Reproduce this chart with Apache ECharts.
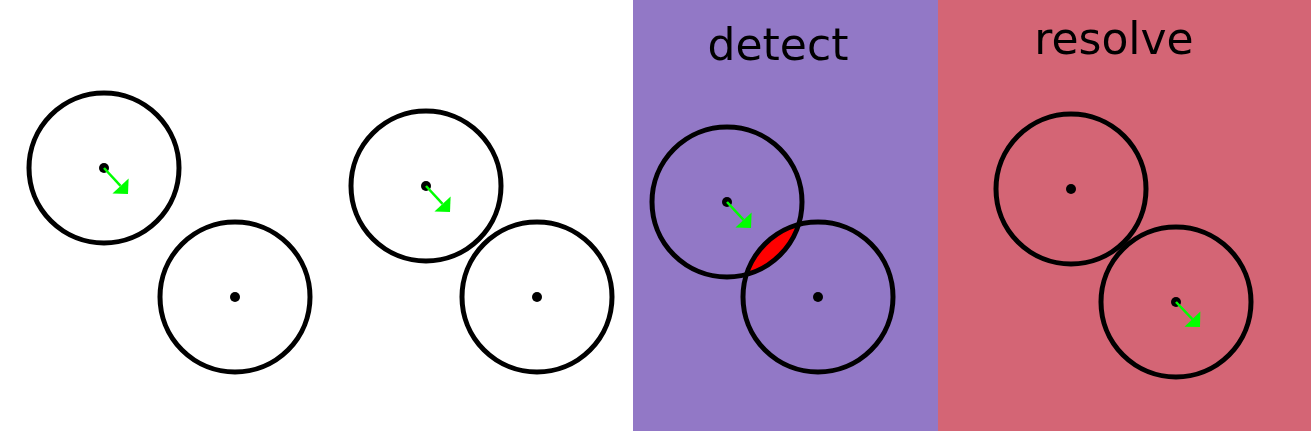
<!DOCTYPE html>
<html>
<head>
<meta charset="utf-8">
<script src="https://cdn.jsdelivr.net/npm/echarts@6/dist/echarts.min.js"></script>
<style>
  html, body { margin: 0; padding: 0; background: #fff; }
  #chart { width: 1311px; height: 431px; }
</style>
</head>
<body>
<div id="chart"></div>
<script type="text/javascript">
// panel edges along x (white area left of the first edge)
var panelEdges = [633, 938, 1311];
var panelTitles = ['detect', 'resolve'];
var titleX = [778, 1114];
var titleY = [49, 43];

// circle centres and radius (in px of the picture)
var circleX = [104, 235, 426, 537, 727, 818, 1071, 1176];
var circleY = [168, 297, 186, 297, 202, 297, 189, 302];
var circleR = [75, 75, 75, 75, 75, 75, 75, 75];

// velocity arrows: which circle, and the vector
var arrowOf = [0, 2, 4, 7];
var arrowDx = [24, 24, 24, 24];
var arrowDy = [26, 26, 26, 25];

// the pair that overlaps in the "detect" panel
var overlapPair = [4, 5];

var panelColors = ['#9278c6', '#d46575'];

var myChart = echarts.init(document.getElementById('chart'));

var panelData = [];
for (var i = 0; i < panelTitles.length; i++) {
    panelData.push([panelEdges[i], panelEdges[i + 1]]);
}
var titleData = panelTitles.map(function (t, i) { return [titleX[i], titleY[i], t]; });
var circleData = circleX.map(function (x, i) { return [x, circleY[i], circleR[i]]; });
var arrowData = arrowOf.map(function (k, i) { return [circleX[k], circleY[k], arrowDx[i], arrowDy[i]]; });

// lens = arc of circle a inside b, then arc of b inside a
function lensPoints(a, b) {
    var x1 = circleX[a], y1 = circleY[a], x2 = circleX[b], y2 = circleY[b], r = circleR[a];
    var d = Math.sqrt((x2 - x1) * (x2 - x1) + (y2 - y1) * (y2 - y1));
    var t = Math.atan2(y2 - y1, x2 - x1);
    var al = Math.acos(d / 2 / r);
    var pts = [], n = 40, k, ang;
    for (k = 0; k <= n; k++) {
        ang = t - al + 2 * al * k / n;
        pts.push([x1 + r * Math.cos(ang), y1 + r * Math.sin(ang)]);
    }
    for (k = 0; k <= n; k++) {
        ang = t + Math.PI - al + 2 * al * k / n;
        pts.push([x2 + r * Math.cos(ang), y2 + r * Math.sin(ang)]);
    }
    return pts;
}
var lensData = lensPoints(overlapPair[0], overlapPair[1]);

var option = {
    animation: false,
    grid: { left: 0, right: 0, top: 0, bottom: 0 },
    xAxis: { type: 'value', min: 0, max: 1311, show: false },
    yAxis: { type: 'value', min: 0, max: 431, inverse: true, show: false },
    series: [
        {
            name: 'panels',
            type: 'custom',
            z: 1,
            clip: false,
            encode: { x: [0, 1] },
            data: panelData,
            renderItem: function (params, api) {
                var p0 = api.coord([api.value(0), 0]);
                var p1 = api.coord([api.value(1), 431]);
                return {
                    type: 'rect',
                    shape: { x: p0[0], y: p0[1], width: p1[0] - p0[0], height: p1[1] - p0[1] },
                    style: { fill: panelColors[params.dataIndex] }
                };
            }
        },
        {
            name: 'lens',
            type: 'custom',
            z: 2,
            clip: false,
            data: [0],
            renderItem: function (params, api) {
                var pts = lensData.map(function (p) { return api.coord(p); });
                return {
                    type: 'polygon',
                    shape: { points: pts },
                    style: { fill: '#ff0000' }
                };
            }
        },
        {
            name: 'circles',
            type: 'custom',
            z: 3,
            clip: false,
            encode: { x: 0, y: 1 },
            data: circleData,
            renderItem: function (params, api) {
                var c = api.coord([api.value(0), api.value(1)]);
                var r = api.size([api.value(2), 0])[0];
                return {
                    type: 'circle',
                    shape: { cx: c[0], cy: c[1], r: r },
                    style: { fill: 'none', stroke: '#000', lineWidth: 5 }
                };
            }
        },
        {
            name: 'centres',
            type: 'scatter',
            z: 4,
            symbol: 'circle',
            symbolSize: 10,
            itemStyle: { color: '#000', opacity: 1 },
            data: circleData.map(function (d) { return [d[0], d[1]]; })
        },
        {
            name: 'arrows',
            type: 'custom',
            z: 5,
            clip: false,
            encode: { x: 0, y: 1 },
            data: arrowData,
            renderItem: function (params, api) {
                var s = api.coord([api.value(0), api.value(1)]);
                var e = api.coord([api.value(0) + api.value(2), api.value(1) + api.value(3)]);
                var dx = e[0] - s[0], dy = e[1] - s[1];
                var len = Math.sqrt(dx * dx + dy * dy);
                var ux = dx / len, uy = dy / len;
                var hl = 11, hw = 11;
                var bx = e[0] - ux * hl, by = e[1] - uy * hl;
                return {
                    type: 'group',
                    children: [
                        {
                            type: 'line',
                            shape: { x1: s[0], y1: s[1], x2: bx, y2: by },
                            style: { stroke: '#00ff00', lineWidth: 2.5 }
                        },
                        {
                            type: 'polygon',
                            shape: { points: [[e[0], e[1]], [bx - uy * hw, by + ux * hw], [bx + uy * hw, by - ux * hw]] },
                            style: { fill: '#00ff00' }
                        }
                    ]
                };
            }
        },
        {
            name: 'titles',
            type: 'custom',
            z: 6,
            clip: false,
            encode: { x: 0, y: 1 },
            data: titleData,
            renderItem: function (params, api) {
                var p = api.coord([api.value(0), api.value(1)]);
                return {
                    type: 'text',
                    x: p[0],
                    y: p[1],
                    style: {
                        text: titleData[params.dataIndex][2],
                        fill: '#000',
                        font: '44px "DejaVu Sans"',
                        align: 'center',
                        verticalAlign: 'middle'
                    }
                };
            }
        }
    ]
};
myChart.setOption(option);
</script>
</body>
</html>
